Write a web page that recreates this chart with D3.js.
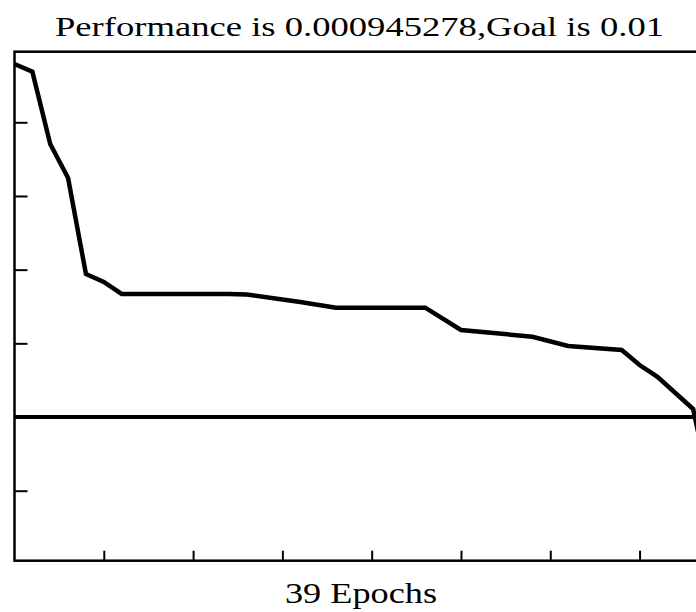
<!DOCTYPE html>
<html>
<head>
<meta charset="utf-8">
<script src="https://cdn.jsdelivr.net/npm/d3@7"></script>
<style>
  html, body { margin: 0; padding: 0; background: #fff; }
  svg { display: block; }
</style>
</head>
<body>
<svg id="chart" width="696" height="612"></svg>
<script>
// training record (epochs where the curve bends)
const epochs = [0, 1, 2, 3, 4, 5, 6, 12, 13, 16, 18, 23, 25, 29, 31, 34, 35, 36, 38, 39];
const perf = [618, 486, 50.8, 17.5, 0.873, 0.680, 0.468, 0.468, 0.460, 0.364, 0.305, 0.305,
              0.152, 0.123, 0.092, 0.0813, 0.0508, 0.0352, 0.01285, 0.000945278];
const goal = 0.01;
const xDomain = [0, 39];
const yDomain = [1.122e-4, 908];
const xTicks = [5, 10, 15, 20, 25, 30, 35];
const yTicks = [1e-3, 1e-2, 1e-1, 1, 10, 100];
const titleText = "Performance is 0.000945278,Goal is 0.01";
const xLabel = "39 Epochs";

// pick a Times-like face that is really there
function pickFont(cands) {
    let ctx = document.createElement("canvas").getContext("2d");
    let probe = "Performance 0.000945278 Goal";
    for (let f of cands) {
        for (let base of ["monospace", "sans-serif"]) {
            ctx.font = `40px ${base}`;
            let w0 = ctx.measureText(probe).width;
            ctx.font = `40px "${f}", ${base}`;
            if (Math.abs(ctx.measureText(probe).width - w0) > 0.5) return `"${f}", serif`;
        }
    }
    return "serif";
}
const serifFont = pickFont(["Liberation Serif", "Tinos", "Times New Roman", "Nimbus Roman",
                            "Nimbus Roman No9 L", "FreeSerif", "Noto Serif", "DejaVu Serif"]);

const svg = d3.select("#chart");

let x = d3.scaleLinear().domain(xDomain).range([14.5, 711]);
let y = d3.scaleLog().domain(yDomain).range([560.7, 51.7]);

// inward ticks, MATLAB style
svg.append("g")
    .attr("transform", `translate(${x(0)},0)`)
    .call(d3.axisLeft(y).tickValues(yTicks).tickSize(-13).tickFormat(""))
    .call(g => g.select(".domain").remove())
    .call(g => g.selectAll("line").attr("stroke", "#000").attr("stroke-width", 2));

svg.append("g")
    .attr("transform", `translate(0,${y.range()[0]})`)
    .call(d3.axisBottom(x).tickValues(xTicks).tickSize(-10).tickFormat(""))
    .call(g => g.select(".domain").remove())
    .call(g => g.selectAll("line").attr("stroke", "#000").attr("stroke-width", 2));

// box
svg.append("rect")
    .attr("x", x(0))
    .attr("y", y.range()[1])
    .attr("width", x(39) - x(0))
    .attr("height", y.range()[0] - y.range()[1])
    .attr("fill", "none")
    .attr("stroke", "#000")
    .attr("stroke-width", 2.5);

// goal
svg.append("line")
    .attr("x1", x(0)).attr("x2", x(39))
    .attr("y1", y(goal)).attr("y2", y(goal))
    .attr("stroke", "#000")
    .attr("stroke-width", 4);

let line = d3.line()
    .x((d, i) => x(epochs[i]))
    .y(d => y(d));

svg.append("path")
    .datum(perf)
    .attr("d", line)
    .attr("fill", "none")
    .attr("stroke", "#000")
    .attr("stroke-width", 4.5);

// labels (the picture is stretched sideways, so the text is too)
svg.append("text")
    .attr("x", 359.5).attr("y", 35.5)
    .attr("text-anchor", "middle")
    .style("font-family", serifFont)
    .attr("font-size", 28)
    .attr("textLength", 609)
    .attr("lengthAdjust", "spacingAndGlyphs")
    .text(titleText);

svg.append("text")
    .attr("x", 361).attr("y", 603.3)
    .attr("text-anchor", "middle")
    .style("font-family", serifFont)
    .attr("font-size", 29)
    .attr("textLength", 152)
    .attr("lengthAdjust", "spacingAndGlyphs")
    .text(xLabel);
</script>
</body>
</html>
